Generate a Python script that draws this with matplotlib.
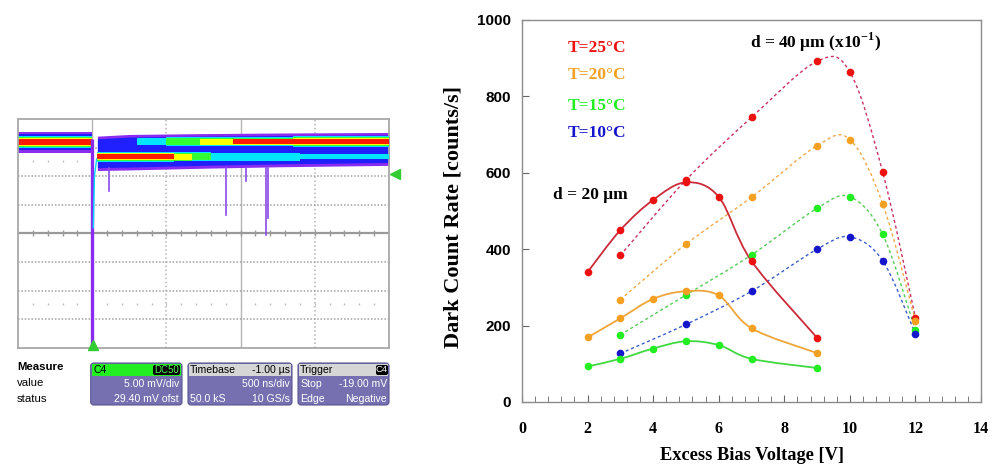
import numpy as np
import matplotlib
matplotlib.use('Agg')
import matplotlib.pyplot as plt
from matplotlib.path import Path
from matplotlib.patches import PathPatch, FancyBboxPatch, Rectangle

# ---------------- Dark count rate data (right panel) ----------------
bias_d20 = [2, 3, 4, 5, 6, 7, 9]
dcr_d20_25C = [340, 450, 529, 575, 537, 369, 168]
dcr_d20_20C = [169, 219, 270, 290, 279, 193, 128]
dcr_d20_15C = [93, 113, 140, 159, 149, 113, 89]

bias_d40 = [3, 5, 7, 9, 10, 11, 12]
dcr_d40_25C = [384, 581, 745, 892, 864, 602, 221]
dcr_d40_20C = [268, 413, 536, 671, 687, 519, 213]
dcr_d40_15C = [176, 280, 385, 507, 537, 439, 188]
dcr_d40_10C = [127, 203, 290, 400, 432, 370, 178]

temp_labels = ['T=25°C', 'T=20°C', 'T=15°C', 'T=10°C']
x_ticks = [0, 2, 4, 6, 8, 10, 12, 14]
y_ticks = [0, 200, 400, 600, 800, 1000]

# ---------------- Oscilloscope persistence trace (left panel, divisions) ----------------
pre_t = [0.0, 1.0]
pre_center = [3.18, 3.18]
post_t = [1.07, 1.5, 2.5, 3.5, 5.0]
env_top = [3.40, 3.46, 3.49, 3.51, 3.53]
env_bot = [2.20, 2.22, 2.28, 2.33, 2.38]
bandA_center = 3.21
bandA_seg = [(1.6, 2.0, 1, 0.7), (2.0, 2.45, 2, 0.85), (2.45, 2.9, 3, 0.9),
             (2.9, 3.7, 4, 0.9), (3.7, 5.0, 4, 1.1)]
bandB_center = 2.68
bandB_seg = [(1.06, 2.1, 4, 1.0), (2.1, 2.35, 3, 0.95), (2.35, 2.6, 2, 0.9),
             (2.6, 3.8, 1, 0.8), (3.8, 5.0, 1, 0.55)]
spike_t = [1.0, 1.0]
spike_v = [3.3, -4.0]
tail_t = [1.015, 1.03, 1.06]
tail_v = [0.2, 2.0, 2.6]
afterpulse_t = [1.226, 2.80, 3.07, 3.34, 3.37]
afterpulse_v = [1.47, 0.63, 1.85, -0.07, 0.55]

measure_rows = ['Measure', 'value', 'status']

# ---------------- figure ----------------
fig = plt.figure(figsize=(10, 4.76), dpi=100)
fig.patch.set_facecolor('white')
plt.rcParams['mathtext.fontset'] = 'custom'
plt.rcParams['mathtext.rm'] = 'Liberation Serif'
plt.rcParams['mathtext.bf'] = 'Liberation Serif:bold'

# ======== Right chart ========
ax = fig.add_axes([0.522, 0.1555, 0.459, 0.8025])
ax.set_xlim(0, 14)
ax.set_ylim(0, 1000)
for s in ax.spines.values():
    s.set_color('#8c8c8c')
    s.set_linewidth(1.0)

def smooth_path(xs, ys):
    pts = np.column_stack([xs, ys]).astype(float)
    n = len(pts)
    verts = [pts[0]]
    codes = [Path.MOVETO]
    for i in range(n - 1):
        p0 = pts[max(i - 1, 0)]
        p1 = pts[i]
        p2 = pts[i + 1]
        p3 = pts[min(i + 2, n - 1)]
        c1 = p1 + (p2 - p0) / 6.0
        c2 = p2 - (p3 - p1) / 6.0
        verts += [c1, c2, p2]
        codes += [Path.CURVE4] * 3
    return Path(verts, codes)

mk = {'25': '#ee1111', '20': '#f4a023', '15': '#22ee22', '10': '#1515cc'}
ln_solid = {'25': '#cc2a3a', '20': '#eea63a', '15': '#40d840'}
ln_dash = {'25': '#c83060', '20': '#f0a848', '15': '#55cc55', '10': '#3a5ccc'}

series_d20 = [('25', dcr_d20_25C), ('20', dcr_d20_20C), ('15', dcr_d20_15C)]
series_d40 = [('25', dcr_d40_25C), ('20', dcr_d40_20C), ('15', dcr_d40_15C), ('10', dcr_d40_10C)]

for key, vals in series_d40:
    ax.add_patch(PathPatch(smooth_path(bias_d40, vals), fill=False,
                           edgecolor=ln_dash[key], lw=1.0, linestyle=(0, (2.2, 2.0)), zorder=2))
    ax.plot(bias_d40, vals, 'o', color=mk[key], ms=5.5, mec='none', zorder=4)
for key, vals in series_d20:
    ax.add_patch(PathPatch(smooth_path(bias_d20, vals), fill=False,
                           edgecolor=ln_solid[key], lw=1.3, zorder=3))
    ax.plot(bias_d20, vals, 'o', color=mk[key], ms=5.5, mec='none', zorder=4)

ax.set_xticks(x_ticks)
ax.set_xticks(np.arange(0, 14.01, 0.4), minor=True)
ax.set_yticks(y_ticks)
ax.tick_params(axis='x', which='major', direction='in', length=5, color='#666666', pad=14)
ax.tick_params(axis='x', which='minor', direction='in', length=4, color='#666666')
ax.tick_params(axis='y', which='major', direction='in', length=5, color='#666666', pad=8)
ax.tick_params(top=False, right=False)
for lab in ax.get_xticklabels():
    lab.set_fontfamily('Liberation Serif'); lab.set_fontweight('bold'); lab.set_fontsize(11.5)
for lab in ax.get_yticklabels():
    lab.set_fontfamily('Liberation Sans'); lab.set_fontweight('bold'); lab.set_fontsize(11)

ax.text(0.5, -0.118, 'Excess Bias Voltage [V]', transform=ax.transAxes, ha='center', va='top',
        fontfamily='Liberation Serif', fontweight='bold', fontsize=13.2)
ax.text(-0.150, 0.484, 'Dark Count Rate [counts/s]', transform=ax.transAxes, rotation=90,
        ha='center', va='center', fontfamily='Liberation Serif', fontweight='bold', fontsize=16)

t_y = [927, 856, 776, 704]
for lab, yy, key in zip(temp_labels, t_y, ['25', '20', '15', '10']):
    ax.text(1.40, yy, lab, color=mk[key], fontfamily='Liberation Serif', fontweight='bold',
            fontsize=12.5, ha='left', va='center')
ax.text(6.95, 942, r'd = 40 μm (x10$^{\mathbf{-1}}$)', fontfamily='Liberation Serif',
        fontweight='bold', fontsize=12.5, ha='left', va='center')
ax.text(0.95, 542, 'd = 20 μm', fontfamily='Liberation Serif', fontweight='bold',
        fontsize=12.5, ha='left', va='center')

# ======== Left: oscilloscope ========
sc = fig.add_axes([0.018, 0.269, 0.371, 0.481])
sc.set_xlim(0, 5)
sc.set_ylim(-4, 4)
sc.set_xticks([]); sc.set_yticks([])
for s in sc.spines.values():
    s.set_color('#a8a8a8'); s.set_linewidth(1.3)

grid_c = '#b4b4b4'
for xv, st in zip([1, 2, 3, 4], ['-', ':', '-', ':']):
    sc.axvline(xv, color=grid_c, lw=1.0 if st == '-' else 1.1, ls=st, zorder=0)
for yv in [-3, -2, -1, 1, 2, 3]:
    sc.axhline(yv, color='#a0a0a0', lw=1.1, ls=(0, (1, 1.2)), zorder=0)
sc.axhline(0, color='#9a9a9a', lw=1.6, zorder=0)
minor_x = np.arange(0.2, 5.0, 0.2)
sc.plot(minor_x, np.zeros_like(minor_x), '|', color='#9a9a9a', ms=4, zorder=0)
sc.plot(minor_x, np.full_like(minor_x, -2.48), '|', color='#c0c0c0', ms=2, zorder=0)
sc.plot(minor_x, np.full_like(minor_x, 2.53), '|', color='#c0c0c0', ms=2, zorder=0)

purple = '#8a2cf0'
level_cols = ['#2020ff', '#00e6ff', '#33ff33', '#ffff00', '#ff1a00']
widths = [0.28, 0.21, 0.175, 0.14, 0.105]
post_widths = [0.28, 0.17, 0.14, 0.115, 0.085]

# pre-trigger band
pc = np.array(pre_center)
sc.fill_between(pre_t, pc - 0.37, pc + 0.37, color=purple, lw=0, zorder=2)
for col, w in zip(level_cols, widths):
    sc.fill_between(pre_t, pc - w, pc + w, color=col, lw=0, zorder=2)

# post-trigger envelope
et = np.array(env_top); eb = np.array(env_bot)
sc.fill_between(post_t, eb, et, color=purple, lw=0, zorder=2)
sc.fill_between(post_t, eb + 0.1, et - 0.09, color=level_cols[0], lw=0, zorder=2)

for center, segs in [(bandA_center, bandA_seg), (bandB_center, bandB_seg)]:
    for t0, t1, lev, scale in segs:
        for li in range(1, lev + 1):
            w = post_widths[li] * scale
            sc.fill_between([t0, t1], [center - w] * 2, [center + w] * 2,
                            color=level_cols[li], lw=0, zorder=3)

# spikes
sc.plot(spike_t, spike_v, color=purple, lw=2.4, zorder=4, solid_capstyle='butt')
sc.plot(tail_t, tail_v, color='#00d8ff', lw=1.0, zorder=4)
for t, v in zip(afterpulse_t, afterpulse_v):
    sc.plot([t, t], [2.3, v], color='#8a4ce8', lw=1.2, zorder=4)

# markers
sc.plot([5.08], [2.07], marker='<', color='#33cc33', ms=7, clip_on=False, zorder=5)
sc.plot([1.006], [-3.9], marker='^', color='#33cc33', ms=7, clip_on=False, zorder=5)

# ======== Info panel (figure-pixel overlay) ========
ov = fig.add_axes([0, 0, 1, 1])
ov.set_xlim(0, 1000); ov.set_ylim(476, 0)
ov.axis('off')
ov.patch.set_alpha(0)

box_c = '#7670b0'
hdr_gray = '#d6d6d6'
txt_kw = dict(fontfamily='Liberation Sans', fontsize=7.6)

for y, lab in zip([367, 383, 399], measure_rows):
    ov.text(17, y, lab, ha='left', va='center', color='black',
            fontweight='bold' if lab == 'Measure' else 'normal', fontfamily='Liberation Sans',
            fontsize=8.2)

def box(x0, x1, hdr_col):
    ov.add_patch(FancyBboxPatch((x0, 363), x1 - x0, 42, boxstyle='round,pad=0,rounding_size=3',
                                fc=box_c, ec='#5a5690', lw=0.8))
    ov.add_patch(Rectangle((x0 + 1, 364), x1 - x0 - 2, 12, fc=hdr_col, ec='none'))

box(90.7, 182, '#22ee22')
ov.text(93, 370, 'C4', ha='left', va='center', color='black', **txt_kw)
ov.add_patch(FancyBboxPatch((153, 365), 27, 10, boxstyle='round,pad=0,rounding_size=2',
                            fc='black', ec='none'))
ov.text(166.5, 370, 'DC50', ha='center', va='center', color='#55ff55', fontfamily='Liberation Sans',
        fontsize=7)
ov.text(179, 384, '5.00 mV/div', ha='right', va='center', color='white', **txt_kw)
ov.text(179, 399, '29.40 mV ofst', ha='right', va='center', color='white', **txt_kw)

box(188, 292, hdr_gray)
ov.text(190, 370, 'Timebase', ha='left', va='center', color='black', **txt_kw)
ov.text(290, 370, '-1.00 µs', ha='right', va='center', color='black', **txt_kw)
ov.text(290, 384, '500 ns/div', ha='right', va='center', color='white', **txt_kw)
ov.text(190, 399, '50.0 kS', ha='left', va='center', color='white', **txt_kw)
ov.text(290, 399, '10 GS/s', ha='right', va='center', color='white', **txt_kw)

box(298, 389, hdr_gray)
ov.text(300, 370, 'Trigger', ha='left', va='center', color='black', **txt_kw)
ov.add_patch(FancyBboxPatch((376, 365), 12, 10, boxstyle='round,pad=0,rounding_size=2',
                            fc='black', ec='none'))
ov.text(382, 370, 'C4', ha='center', va='center', color='white', fontfamily='Liberation Sans',
        fontsize=6.8)
ov.text(300, 384, 'Stop', ha='left', va='center', color='white', **txt_kw)
ov.text(387, 384, '-19.00 mV', ha='right', va='center', color='white', **txt_kw)
ov.text(300, 399, 'Edge', ha='left', va='center', color='white', **txt_kw)
ov.text(387, 399, 'Negative', ha='right', va='center', color='white', **txt_kw)

fig.savefig('out.png', dpi=100)
